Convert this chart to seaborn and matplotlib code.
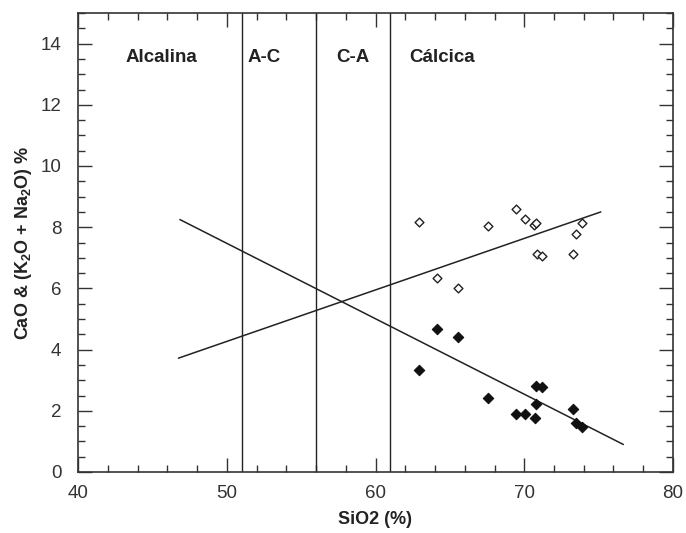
import matplotlib
matplotlib.use("Agg")
import matplotlib.pyplot as plt
import numpy as np
import pandas as pd
import seaborn as sns
from matplotlib.ticker import MultipleLocator

# SiO2 of each sample, with CaO and alkali (K2O + Na2O) contents
sio2 = [62.94, 64.15, 65.57, 67.56, 69.47, 70.03, 70.65, 70.80, 70.84, 71.19, 73.30, 73.48, 73.86]
alkali = [8.16, 6.33, 6.01, 8.05, 8.59, 8.28, 8.08, 8.15, 7.13, 7.06, 7.11, 7.78, 8.14]
sio2_cao = [62.94, 64.15, 65.57, 67.56, 69.47, 70.03, 70.70, 70.77, 70.79, 71.19, 73.30, 73.48, 73.86]
cao = [3.33, 4.66, 4.40, 2.43, 1.91, 1.91, 1.77, 2.21, 2.81, 2.79, 2.07, 1.60, 1.47]

# trend lines (end points)
alk_trend_x = [46.75, 75.15]
alk_trend_y = [3.72, 8.50]
cao_trend_x = [46.85, 76.66]
cao_trend_y = [8.25, 0.90]

# Peacock index field boundaries and names
boundaries = [51, 56, 61]
field_names = ["Alcalina", "A-C", "C-A", "Cálcica"]
field_x = [45.6, 52.5, 58.5, 64.5]

sns.set_theme(style="ticks")
plt.rcParams["font.family"] = ["Liberation Sans", "DejaVu Sans"]
plt.rcParams["mathtext.fontset"] = "custom"
plt.rcParams["mathtext.rm"] = "Liberation Sans:bold"
plt.rcParams["mathtext.bf"] = "Liberation Sans:bold"

fig = plt.figure(figsize=(6.86, 5.33), dpi=100)
ax = fig.add_axes([78 / 686, 61 / 533, 595 / 686, 459 / 533])

for b in boundaries:
    ax.axvline(b, color="#222222", lw=1.0, zorder=1)

sns.lineplot(x=alk_trend_x, y=alk_trend_y, ax=ax, color="#222222", lw=1.1, zorder=2)
sns.lineplot(x=cao_trend_x, y=cao_trend_y, ax=ax, color="#222222", lw=1.1, zorder=2)

alk_df = pd.DataFrame({"sio2": sio2, "val": alkali})
cao_df = pd.DataFrame({"sio2": sio2_cao, "val": cao})
sns.scatterplot(data=alk_df, x="sio2", y="val", ax=ax, marker="D", s=20,
                facecolor="white", edgecolor="#222222", linewidth=1.0, zorder=3)
sns.scatterplot(data=cao_df, x="sio2", y="val", ax=ax, marker="D", s=28,
                color="#111111", edgecolor="#111111", linewidth=0.8, zorder=3)

for name, fx in zip(field_names, field_x):
    ax.text(fx, 13.55, name, ha="center", va="center", fontsize=13.5,
            fontweight="bold", color="#222222")

ax.set_xlim(40, 80)
ax.set_ylim(0, 15)
ax.xaxis.set_major_locator(MultipleLocator(10))
ax.xaxis.set_minor_locator(MultipleLocator(2))
ax.yaxis.set_major_locator(MultipleLocator(2))
ax.yaxis.set_minor_locator(MultipleLocator(0.5))
ax.set_yticks(np.arange(0, 15, 2))

ax.tick_params(which="both", direction="in", top=True, right=True,
               color="#333333", width=1.0)
ax.tick_params(which="major", length=10)
ax.tick_params(which="minor", length=5)
ax.tick_params(axis="x", which="major", pad=9, labelsize=13.5, labelcolor="#333333")
ax.tick_params(axis="y", which="major", pad=12, labelsize=13.5, labelcolor="#333333")

for sp in ax.spines.values():
    sp.set_color("#333333")
    sp.set_linewidth(1.2)

ax.set_xlabel("SiO2 (%)", fontsize=13, fontweight="bold", color="#222222", labelpad=7)
ax.set_ylabel(r"CaO & (K$_2$O + Na$_2$O) %", fontsize=13, fontweight="bold",
              color="#222222", labelpad=5)

fig.savefig("out.png", dpi=100)
